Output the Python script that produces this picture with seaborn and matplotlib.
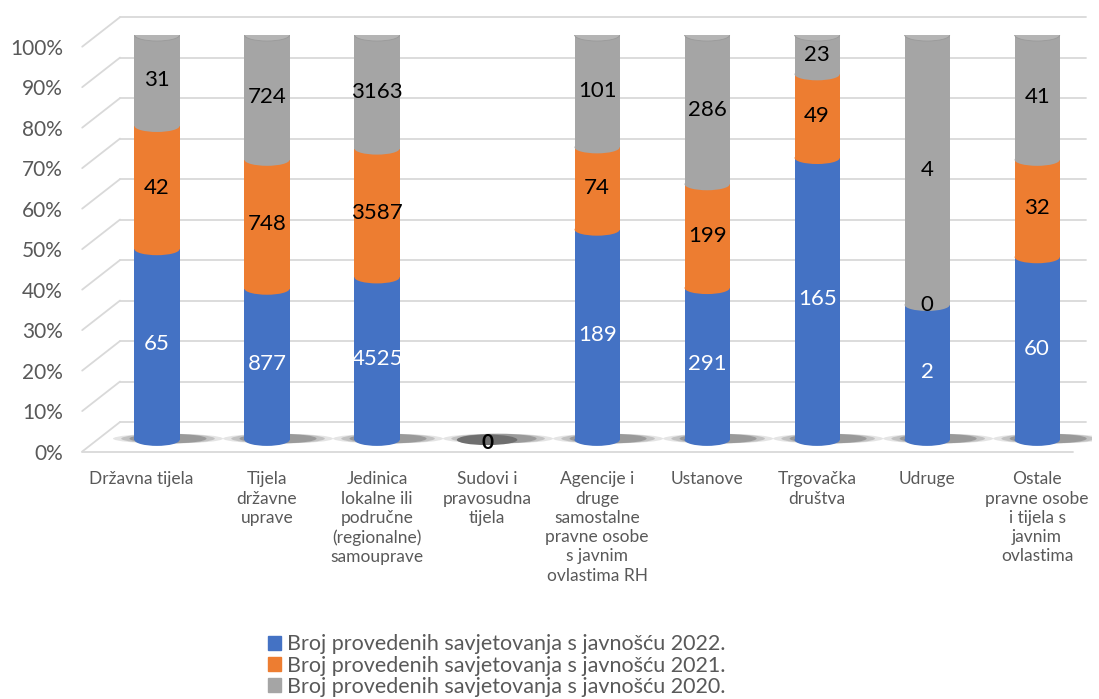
import numpy as np
import pandas as pd
import matplotlib.pyplot as plt
import seaborn as sns
from matplotlib.ticker import FixedLocator
from matplotlib.patches import Ellipse
from matplotlib.transforms import ScaledTranslation

# ---------------- podaci ----------------
kategorije = ['Državna tijela', 'Tijela\ndržavne\nuprave',
              'Jedinica\nlokalne ili\npodručne\n(regionalne)\nsamouprave',
              'Sudovi i\npravosudna\ntijela',
              'Agencije i\ndruge\nsamostalne\npravne osobe\ns javnim\novlastima RH',
              'Ustanove', 'Trgovačka\ndruštva', 'Udruge',
              'Ostale\npravne osobe\ni tijela s\njavnim\novlastima']
god_2022 = [65, 877, 4525, 0, 189, 291, 165, 2, 60]
god_2021 = [42, 748, 3587, 0, 74, 199, 49, 0, 32]
god_2020 = [31, 724, 3163, 0, 101, 286, 23, 4, 41]
serije = ['Broj provedenih savjetovanja s javnošću 2022.',
          'Broj provedenih savjetovanja s javnošću 2021.',
          'Broj provedenih savjetovanja s javnošću 2020.']
boje = ['#4472C4', '#ED7D31', '#A5A5A5']
y_ticks = list(range(0, 101, 10))

sns.set_style('white')
plt.rcParams['font.family'] = ['Lato', 'DejaVu Sans']
siva_txt = '#595959'

# ---------------- priprema ----------------
df = pd.DataFrame({'kat': kategorije, 'g22': god_2022, 'g21': god_2021, 'g20': god_2020})
ukupno = (df['g22'] + df['g21'] + df['g20']).replace(0, np.nan)
p22 = (df['g22'] / ukupno * 100).fillna(0)
p21 = (df['g21'] / ukupno * 100).fillna(0)
p20 = (df['g20'] / ukupno * 100).fillna(0)
df['c1'] = p22
df['c2'] = p22 + p21
df['c3'] = p22 + p21 + p20

fig = plt.figure(figsize=(10.99, 6.99), dpi=100)
ax = fig.add_axes([0.0928, 0.3534, 0.901, 0.5966])

# pozadinska mreza (lažni 3D zid)
dubina_nazad = 4.4
dubina_naprijed = -2.9
for v in y_ticks:
    ax.plot([-0.336, 8.44], [v + dubina_nazad] * 2, color='#d9d9d9', lw=1.3,
            zorder=0, clip_on=False)
    ax.plot([-0.68, -0.336], [v + dubina_naprijed, v + dubina_nazad],
            color='#d9d9d9', lw=1.3, zorder=0, clip_on=False)
ax.plot([-0.68, 8.33], [dubina_naprijed] * 2, color='#d9d9d9', lw=1.3,
        zorder=0, clip_on=False)

# sjene pri dnu
for i in range(len(kategorije)):
    for w, a in [(1.0, 0.12), (0.85, 0.18), (0.7, 0.25)]:
        ax.add_patch(Ellipse((i + 0.1, 0.3), w, 2.4, color='#262626', alpha=a,
                             zorder=1, lw=0))

# slagani stupci: najprije ukupno, zatim preko njega
for kol, boja in zip(['c3', 'c2', 'c1'], boje[::-1]):
    sns.barplot(data=df, x='kat', y=kol, color=boja, width=0.41,
                saturation=1, ax=ax, zorder=2, linewidth=0)

# zaobljenja (valjci)
sirina = 0.41
for i in range(len(kategorije)):
    if df['c3'][i] == 0:
        continue
    donji = [0, df['c1'][i], df['c2'][i]]
    visine = [p22[i], p21[i], p20[i]]
    for s in range(3):
        if visine[s] > 0:
            ax.add_patch(Ellipse((i, donji[s]), sirina, 3.0, color=boje[s],
                                 zorder=2.5 + s * 0.1, lw=0))
    ax.add_patch(Ellipse((i, 100), sirina, 3.0, facecolor='#b4b4b4',
                         edgecolor='#9a9a9a', lw=0.6, zorder=2.9))

# oznake vrijednosti
for i in range(len(kategorije)):
    if df['c3'][i] == 0:
        ax.add_patch(Ellipse((i, 0), 0.55, 2.6, color='#6f6f6f', zorder=3, lw=0))
        ax.text(i, -0.8, '0', ha='center', va='center', fontsize=15,
                fontweight='bold', color='black', zorder=4)
        continue
    donji = [0, df['c1'][i], df['c2'][i]]
    visine = [p22[i], p21[i], p20[i]]
    vrijednosti = [god_2022[i], god_2021[i], god_2020[i]]
    for s in range(3):
        ax.text(i, donji[s] + visine[s] / 2, str(vrijednosti[s]), ha='center',
                va='center', fontsize=16,
                color='white' if s == 0 else 'black', zorder=4)

ax.set_xlim(-0.5, 8.5)
ax.set_ylim(-3, 100)
ax.yaxis.set_major_locator(FixedLocator([v + dubina_naprijed for v in y_ticks]))
ax.set_yticklabels([f'{v}%' for v in y_ticks])
ax.tick_params(axis='y', length=0, pad=28, labelsize=15, labelcolor=siva_txt)
ax.tick_params(axis='x', length=0, pad=14, labelsize=12.5, labelcolor=siva_txt)
for t in ax.get_xticklabels():
    t.set_linespacing(1.25)
    t.set_verticalalignment('top')
ax.set_xlabel('')
ax.set_ylabel('')
sns.despine(ax=ax, left=True, bottom=True)

# prva oznaka je u originalu malo pomaknuta ulijevo
prva = ax.get_xticklabels()[0]
prva.set_transform(prva.get_transform() + ScaledTranslation(-0.16, 0, fig.dpi_scale_trans))

ruke = [plt.Rectangle((0, 0), 1, 1, color=b) for b in boje]
fig.legend(ruke, serije, loc='upper center', bbox_to_anchor=(0.452, 0.12),
           frameon=False, fontsize=15.5, labelcolor=siva_txt, handlelength=0.6,
           handleheight=0.6, handletextpad=0.3, labelspacing=0.05)

fig.savefig('out.png', dpi=100)
